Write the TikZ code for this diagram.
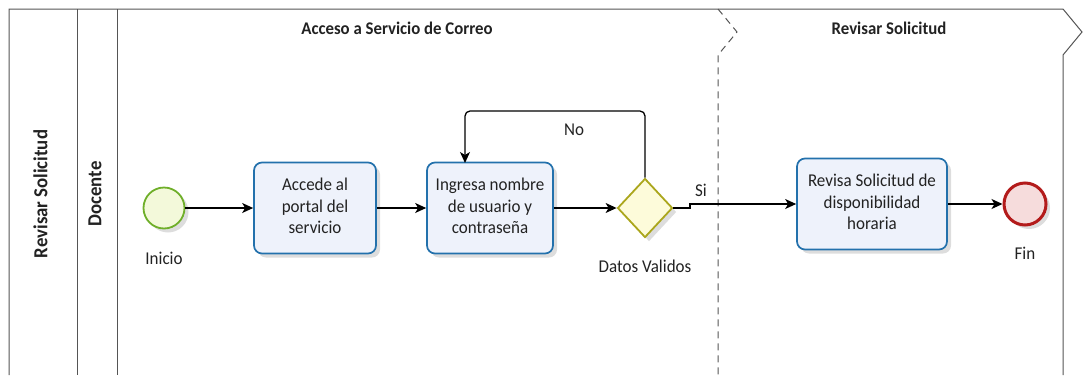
\documentclass[tikz,border=0pt]{standalone}
\usepackage{fontspec}
\setmainfont{Carlito}
\usetikzlibrary{arrows.meta,shapes.geometric,shadows}
\definecolor{lanegray}{HTML}{555555}
\definecolor{taskblue}{HTML}{2371AC}
\definecolor{taskfill}{HTML}{EEF2FB}
\definecolor{startgreen}{HTML}{6FAF2A}
\definecolor{startfill}{HTML}{F3F9DA}
\definecolor{gateolive}{HTML}{ABA61C}
\definecolor{gatefill}{HTML}{FDFBDA}
\definecolor{endred}{HTML}{B31B1B}
\definecolor{endfill}{HTML}{F6DCDC}
\definecolor{txt}{HTML}{222222}
\newcommand\vtxt[1]{\scalebox{1}[1.06]{\begin{tabular}{@{}c@{}}#1\end{tabular}}}
\begin{document}
\begin{tikzpicture}[x=1pt,y=-1pt,
  lane/.style={draw=lanegray,line width=1pt},
  phase/.style={draw=lanegray,line width=1pt,dash pattern=on 7pt off 5pt},
  shad/.style={drop shadow={shadow xshift=4pt,shadow yshift=-4pt,opacity=0.22,fill=black!60}},
  task/.style={rectangle,rounded corners=8pt,minimum width=#1,minimum height=91pt,
    draw=taskblue,line width=1.7pt,fill=taskfill,shad,inner sep=0pt,
    text=txt,font=\fontsize{17}{20.3}\selectfont},
  task/.default=122pt,
  lbl/.style={text=txt,font=\fontsize{17}{20.3}\selectfont,inner sep=0pt},
  ttl/.style={text=txt,font=\bfseries\fontsize{16.8}{19}\selectfont,inner sep=0pt},
  lanettl/.style={text=txt,font=\bfseries\fontsize{18.8}{21}\selectfont,inner sep=0pt,rotate=90},
  flow/.style={draw=black,line width=1.3pt,-{Stealth[length=11pt,width=10pt,inset=3pt]}}
]
\useasboundingbox (0,0) rectangle (1083,375);
% pool frame
\draw[lane] (9,375) -- (9,9) -- (1063,9) -- (1082,32) -- (1063,55) -- (1063,375);
\draw[lane] (77,9) -- (77,375);
\draw[lane] (117,9) -- (117,375);
\draw[phase] (718,9) -- (737,32) -- (718,55) -- (718,375);
% titles
\node[ttl] (t1) at (397,30) {\vtxt{Acceso a Servicio de Correo}};
\node[ttl] (t2) at (889,30) {\vtxt{Revisar Solicitud}};
\node[lanettl] (pool) at (43,194) {\vtxt{Revisar Solicitud}};
\node[lanettl] (lane1) at (97,194) {\vtxt{Docente}};
% nodes
\node[circle,minimum size=41pt,draw=startgreen,line width=1.8pt,fill=startfill,shad,inner sep=0pt] (start) at (164,208) {};
\node[lbl] (startl) at (164,260) {\vtxt{Inicio}};
\node[task] (a1) at (315,208) {\vtxt{Accede al\\portal del\\servicio}};
\node[task=126pt] (a2) at (490,208) {\vtxt{Ingresa nombre\\de usuario y\\contraseña}};
\node[diamond,minimum width=55pt,minimum height=59pt,inner sep=0pt,draw=gateolive,line width=1.8pt,fill=gatefill,shad] (g) at (645,208) {};
\node[lbl] (gl) at (645,268) {\vtxt{Datos Validos}};
\node[task=150pt] (a3) at (872,204) {\vtxt{Revisa Solicitud de\\disponibilidad\\horaria}};
\node[circle,minimum size=42pt,draw=endred,line width=3pt,fill=endfill,shad,inner sep=0pt] (end) at (1025,204) {};
\node[lbl] (endl) at (1025,255) {\vtxt{Fin}};
\node[lbl] (no) at (574,131) {\vtxt{No}};
\node[lbl] (si) at (701,192) {\vtxt{Si}};
% flows
\coordinate (j1) at (690,208);
\coordinate (j2) at (690,204);
\draw[flow] (start) -- (a1);
\draw[flow] (a1) -- (a2);
\draw[flow] (a2) -- (g);
\draw[flow,rounded corners=5pt] (g.north) -- (645,111) -- (465,111) -- (465,163);
\draw[flow] (g.east) -- (j1) -- (j2) -- (a3.west);
\draw[flow] (a3) -- (end);
\end{tikzpicture}
\end{document}
